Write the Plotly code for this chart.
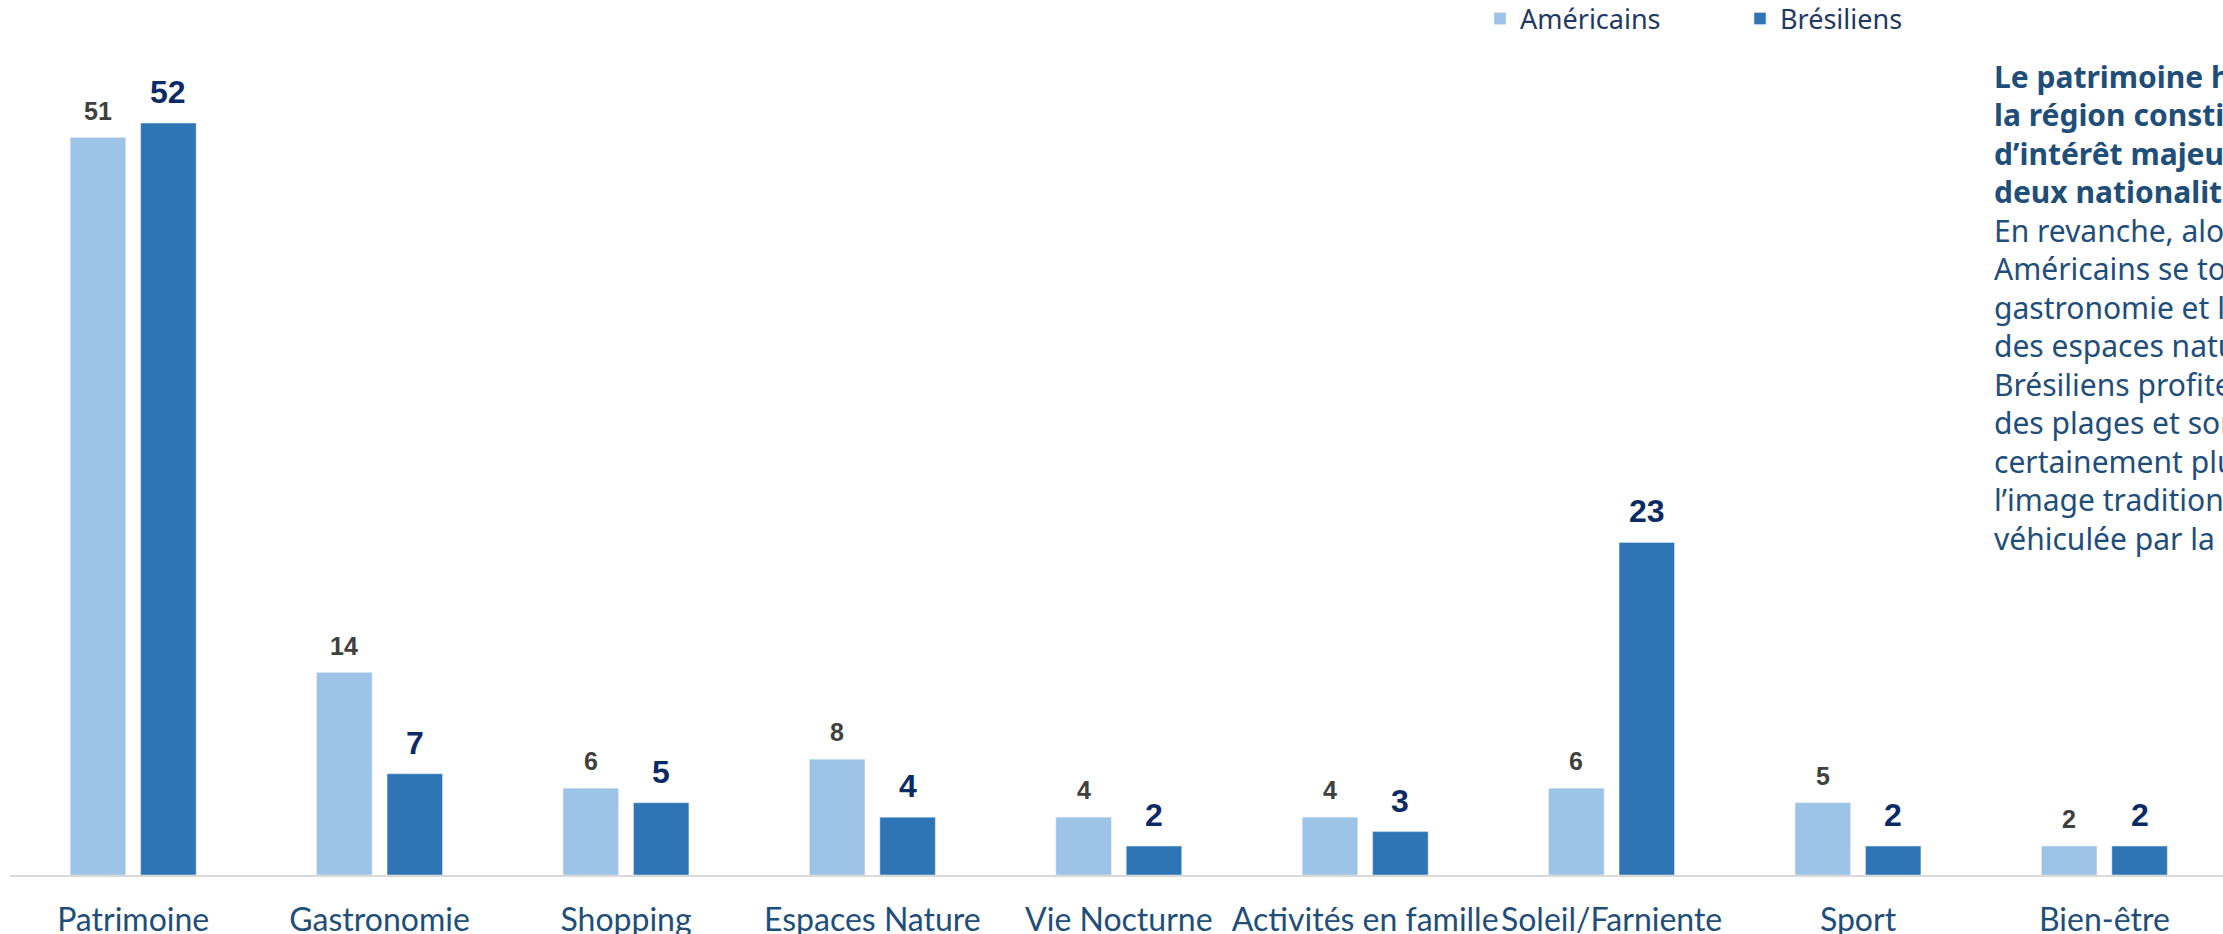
import plotly.graph_objects as go

categories = ["Patrimoine", "Gastronomie", "Shopping", "Espaces Nature", "Vie Nocturne",
              "Activités en famille", "Soleil/Farniente", "Sport", "Bien-être"]
americains = [51, 14, 6, 8, 4, 4, 6, 5, 2]
bresiliens = [52, 7, 5, 4, 2, 3, 23, 2, 2]
series_names = ["Américains", "Brésiliens"]

title_lines = ["Le patrimoine historique de", "la région constitue un point",
               "d’intérêt majeur pour les", "deux nationalités."]
body_lines = ["En revanche, alors que les", "Américains se tournent vers la",
              "gastronomie et la découverte", "des espaces naturels, les",
              "Brésiliens profitent davantage", "des plages et sont",
              "certainement plus sensibles à", "l’image traditionnelle",
              "véhiculée par la région."]

W, H = 2223, 934
ML, MR, MT, MB = 10, 0, 20, 59
PLOT_W = W - ML - MR
PLOT_H = H - MT - MB
CAT_PX = 246.4
PX_PER_UNIT = 14.46
BARGAP = 0.4286
GROUPGAP = 0.212

LIGHT = "#9DC3E6"
DARK = "#2E75B6"
FONT = "Noto Sans"

fig = go.Figure()
fig.add_trace(go.Bar(x=categories, y=americains, name=series_names[0],
                     marker=dict(color=LIGHT), hoverinfo="x+y"))
fig.add_trace(go.Bar(x=categories, y=bresiliens, name=series_names[1],
                     marker=dict(color=DARK), hoverinfo="x+y"))

off = (1 - BARGAP) / 4
annots = []
for i, v in enumerate(americains):
    annots.append(dict(x=i - off, y=v, xref="x", yref="y", text=str(v), showarrow=False,
                       yanchor="middle", yshift=27,
                       font=dict(family="Liberation Sans", size=25, color="#404040", weight="bold")))
for i, v in enumerate(bresiliens):
    annots.append(dict(x=i + off, y=v, xref="x", yref="y", text=str(v), showarrow=False,
                       yanchor="middle", yshift=31,
                       font=dict(family="Liberation Sans", size=32, color="#0C2B64", weight="bold")))

def px_x(px):
    return (px - ML) / PLOT_W

def px_y(py):
    return 1 - (py - MT) / PLOT_H

TEXT_X = 1992
LINE_H = 38.5
BASE0 = 86.7
TEXT_SIZE = 30
for k, line in enumerate(title_lines + body_lines):
    bold = k < len(title_lines)
    annots.append(dict(x=px_x(TEXT_X), y=px_y(BASE0 + k * LINE_H - 0.35 * TEXT_SIZE),
                       xref="paper", yref="paper",
                       text=line, showarrow=False, xanchor="left", yanchor="middle",
                       align="left",
                       font=dict(family=FONT, size=TEXT_SIZE, color="#1F4E79",
                                 weight="bold" if bold else "normal")))

fig.update_layout(
    width=W, height=H,
    margin=dict(l=ML, r=MR, t=MT, b=MB, pad=0, autoexpand=False),
    paper_bgcolor="white", plot_bgcolor="white",
    barmode="group", bargap=BARGAP, bargroupgap=GROUPGAP,
    showlegend=True,
    legend=dict(orientation="h", xref="container", yref="container",
                x=1480 / W, y=1 - 19 / H, xanchor="left", yanchor="middle",
                font=dict(family=FONT, size=27, color="#1F3864"),
                entrywidth=215, entrywidthmode="pixels",
                bgcolor="rgba(0,0,0,0)", borderwidth=0),
    xaxis=dict(type="category", range=[-0.5, -0.5 + PLOT_W / CAT_PX],
               showline=True, linecolor="#D9D9D9", linewidth=2,
               showgrid=False, zeroline=False, ticks="",
               ticklabelstandoff=16,
               tickfont=dict(family="Lato", size=32, color="#1F4E79")),
    yaxis=dict(range=[0, PLOT_H / PX_PER_UNIT], visible=False, showgrid=False, zeroline=False),
    annotations=annots,
    font=dict(family=FONT),
)

fig.write_html("out.html", config={"displayModeBar": False},
               post_script="document.body.style.margin='0';document.body.style.overflow='hidden';")
